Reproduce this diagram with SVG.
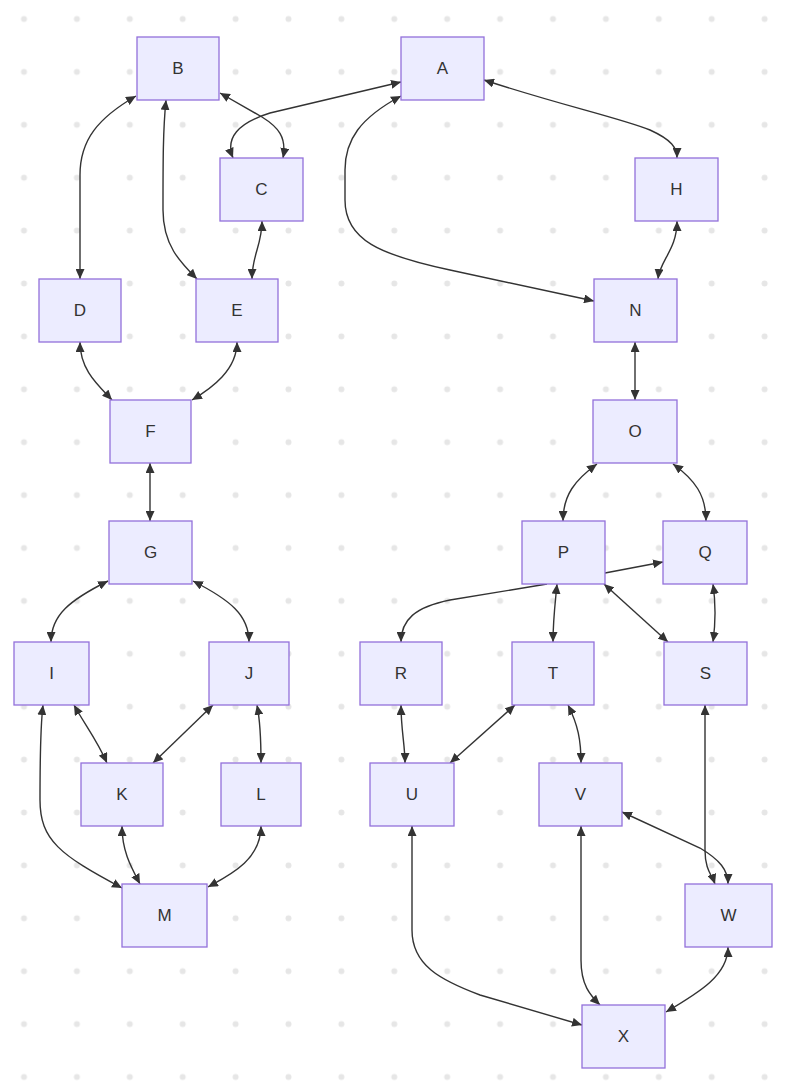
<svg xmlns="http://www.w3.org/2000/svg" width="790" height="1084" viewBox="0 0 790 1084">
<defs>
<pattern id="dots" x="-2.45" y="-7.45" width="52.9" height="52.9" patternUnits="userSpaceOnUse">
<circle cx="26.45" cy="26.45" r="3" fill="#e6e6e6"/>
</pattern>
<marker id="arr" viewBox="0 0 10 9" refX="10" refY="4.5" markerWidth="10" markerHeight="9" markerUnits="userSpaceOnUse" orient="auto-start-reverse">
<path d="M0,0 L10,4.5 L0,9 z" fill="#333333"/>
</marker>
<style>
.n rect{fill:#ECECFF;stroke:#9370DB;stroke-width:1.3}
.n text{font-family:"Liberation Sans",Arial,sans-serif;font-size:17px;fill:#333333;text-anchor:middle;dominant-baseline:central}
.e path{fill:none;stroke:#333333;stroke-width:1.4}
.b{marker-start:url(#arr);marker-end:url(#arr)}
.s{marker-end:url(#arr)}
</style>
</defs>
<rect width="790" height="1084" fill="#ffffff"/>
<rect width="790" height="1084" fill="url(#dots)"/>
<g id="connectors" class="e">
<path class="b" d="M401,82 L270,113 C238,123 225,138 233,158"/>
<path class="b" d="M220,93 L262,117 C278,127 287,137 283,158"/>
<path class="b" d="M401,96 C360,118 345,140 345,170 L345,200 C345,240 380,255 450,270 L594,301"/>
<path class="b" d="M484,80 C560,105 620,118 650,130 C672,140 677,148 677,158"/>
<path class="b" d="M677,221 C677,250 660,260 658,279"/>
<path class="b" d="M136,96 C98,118 80,140 80,175 L80,279"/>
<path class="b" d="M166,100 C163,130 163,160 163,210 C163,245 180,262 197,279"/>
<path class="b" d="M262,221 C262,245 252,255 252,279"/>
<path class="b" d="M80,342 C80,370 98,385 112,400"/>
<path class="b" d="M237,342 C237,370 212,388 192,400"/>
<path class="b" d="M150,463 L150,521"/>
<path class="b" d="M108,581 C70,600 51,615 51,642"/>
<path class="b" d="M193,581 C230,600 249,615 249,642"/>
<path class="b" d="M74,705 C85,725 97,740 107,763"/>
<path class="b" d="M43,705 C40,730 40,760 40,800 C40,840 60,855 122,888"/>
<path class="b" d="M213,705 L153,763"/>
<path class="b" d="M257,705 C261,725 261,745 261,763"/>
<path class="b" d="M122,826 C122,850 130,865 140,884"/>
<path class="b" d="M261,826 C261,860 230,875 208,887"/>
<path class="b" d="M635,342 L635,400"/>
<path class="b" d="M597,464 C575,480 563,495 563,521"/>
<path class="b" d="M673,464 C695,480 706,495 706,521"/>
<path class="s" d="M605,573 L663,562"/>
<path class="s" d="M547,584 L450,600 C415,607 401,620 401,642"/>
<path class="b" d="M557,584 C555,605 553,620 553,642"/>
<path class="b" d="M604,584 L668,642"/>
<path class="b" d="M713,584 C716,605 716,620 713,642"/>
<path class="b" d="M401,705 C401,730 405,745 405,763"/>
<path class="b" d="M515,705 L450,763"/>
<path class="b" d="M568,705 C578,725 581,740 581,763"/>
<path class="b" d="M705,705 L705,850 C705,870 712,875 715,884"/>
<path class="b" d="M622,812 L700,848 C720,860 728,870 728,884"/>
<path class="b" d="M412,826 L412,930 C412,965 440,980 480,995 L582,1025"/>
<path class="b" d="M581,826 L581,960 C581,985 590,995 600,1005"/>
<path class="b" d="M728,947 C728,975 700,992 666,1012"/>
</g>
<g id="A" class="n"><rect x="401" y="37" width="83" height="63"/><text x="442.5" y="68.5">A</text></g>
<g id="B" class="n"><rect x="137" y="37" width="82" height="63"/><text x="178" y="68.5">B</text></g>
<g id="C" class="n"><rect x="220" y="158" width="83" height="63"/><text x="261.5" y="189.5">C</text></g>
<g id="H" class="n"><rect x="635" y="158" width="83" height="63"/><text x="676.5" y="189.5">H</text></g>
<g id="D" class="n"><rect x="39" y="279" width="82" height="63"/><text x="80" y="310.5">D</text></g>
<g id="E" class="n"><rect x="196" y="279" width="82" height="63"/><text x="237" y="310.5">E</text></g>
<g id="N" class="n"><rect x="594" y="279" width="83" height="63"/><text x="635.5" y="310.5">N</text></g>
<g id="F" class="n"><rect x="110" y="400" width="81" height="63"/><text x="150.5" y="431.5">F</text></g>
<g id="O" class="n"><rect x="593" y="400" width="84" height="63"/><text x="635" y="431.5">O</text></g>
<g id="G" class="n"><rect x="109" y="521" width="83" height="63"/><text x="150.5" y="552.5">G</text></g>
<g id="P" class="n"><rect x="522" y="521" width="83" height="63"/><text x="563.5" y="552.5">P</text></g>
<g id="Q" class="n"><rect x="663" y="521" width="84" height="63"/><text x="705" y="552.5">Q</text></g>
<g id="I" class="n"><rect x="14" y="642" width="75" height="63"/><text x="51.5" y="673.5">I</text></g>
<g id="J" class="n"><rect x="209" y="642" width="80" height="63"/><text x="249" y="673.5">J</text></g>
<g id="R" class="n"><rect x="360" y="642" width="82" height="63"/><text x="401" y="673.5">R</text></g>
<g id="T" class="n"><rect x="512" y="642" width="82" height="63"/><text x="553" y="673.5">T</text></g>
<g id="S" class="n"><rect x="664" y="642" width="83" height="63"/><text x="705.5" y="673.5">S</text></g>
<g id="K" class="n"><rect x="81" y="763" width="82" height="63"/><text x="122" y="794.5">K</text></g>
<g id="L" class="n"><rect x="221" y="763" width="80" height="63"/><text x="261" y="794.5">L</text></g>
<g id="U" class="n"><rect x="370" y="763" width="84" height="63"/><text x="412" y="794.5">U</text></g>
<g id="V" class="n"><rect x="539" y="763" width="83" height="63"/><text x="580.5" y="794.5">V</text></g>
<g id="M" class="n"><rect x="122" y="884" width="85" height="63"/><text x="164.5" y="915.5">M</text></g>
<g id="W" class="n"><rect x="685" y="884" width="87" height="63"/><text x="728.5" y="915.5">W</text></g>
<g id="X" class="n"><rect x="582" y="1005" width="83" height="63"/><text x="623.5" y="1036.5">X</text></g>
</svg>
